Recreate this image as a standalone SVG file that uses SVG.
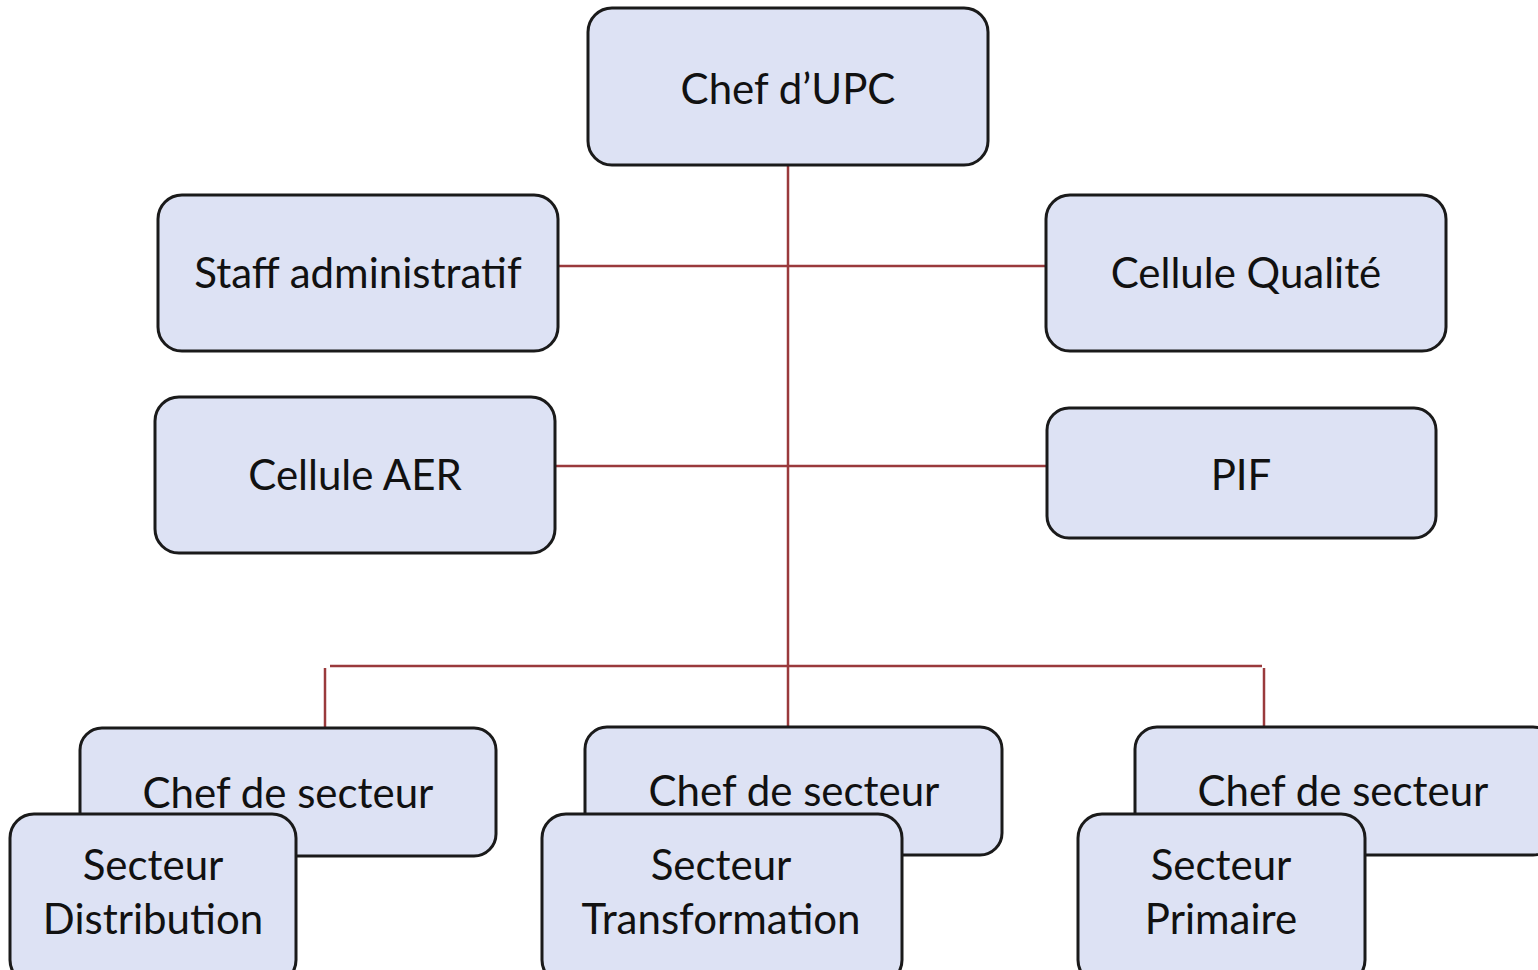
<svg xmlns="http://www.w3.org/2000/svg" width="1538" height="970" viewBox="0 0 1538 970">
<style>
.box{fill:#dde2f4;stroke:#1a1a1a;stroke-width:3}
.t{font-family:Lato,"Open Sans",sans-serif;font-size:42px;fill:#111;text-anchor:middle}
.ln{stroke:#9a3a3c;stroke-width:2.5;fill:none}
</style>
<rect width="1538" height="970" fill="#fff"/>
<g id="connectors">
<line class="ln" x1="788" y1="165" x2="788" y2="727"/>
<line class="ln" x1="558" y1="266" x2="1046" y2="266"/>
<line class="ln" x1="555" y1="466" x2="1047" y2="466"/>
<line class="ln" x1="330" y1="666" x2="1262" y2="666"/>
<line class="ln" x1="325" y1="668" x2="325" y2="728"/>
<line class="ln" x1="1264" y1="668" x2="1264" y2="727"/>
</g>
<g id="chef-upc"><rect class="box" x="588" y="8" width="400" height="157" rx="24"/><text class="t" x="788" y="104">Chef d’UPC</text></g>
<g id="staff"><rect class="box" x="158" y="195" width="400" height="156" rx="24"/><text class="t" x="358" y="288">Staff administratif</text></g>
<g id="qualite"><rect class="box" x="1046" y="195" width="400" height="156" rx="24"/><text class="t" x="1246" y="288">Cellule Qualité</text></g>
<g id="aer"><rect class="box" x="155" y="397" width="400" height="156" rx="24"/><text class="t" x="355" y="490">Cellule AER</text></g>
<g id="pif"><rect class="box" x="1047" y="408" width="389" height="130" rx="22"/><text class="t" x="1241" y="490">PIF</text></g>
<g id="chef-secteur-1"><rect class="box" x="80" y="728" width="416" height="128" rx="22"/><text class="t" x="288" y="808">Chef de secteur</text></g>
<g id="secteur-distribution"><rect class="box" x="10" y="814" width="286" height="170" rx="24"/><text class="t" x="153" y="880">Secteur</text><text class="t" x="153" y="934">Distribution</text></g>
<g id="chef-secteur-2"><rect class="box" x="585" y="727" width="417" height="128" rx="22"/><text class="t" x="794" y="806">Chef de secteur</text></g>
<g id="secteur-transformation"><rect class="box" x="542" y="814" width="360" height="170" rx="24"/><text class="t" x="721" y="880">Secteur</text><text class="t" x="721" y="934">Transformation</text></g>
<g id="chef-secteur-3"><rect class="box" x="1135" y="727" width="420" height="128" rx="22"/><text class="t" x="1343" y="806">Chef de secteur</text></g>
<g id="secteur-primaire"><rect class="box" x="1078" y="814" width="287" height="170" rx="24"/><text class="t" x="1221" y="880">Secteur</text><text class="t" x="1221" y="934">Primaire</text></g>
</svg>
